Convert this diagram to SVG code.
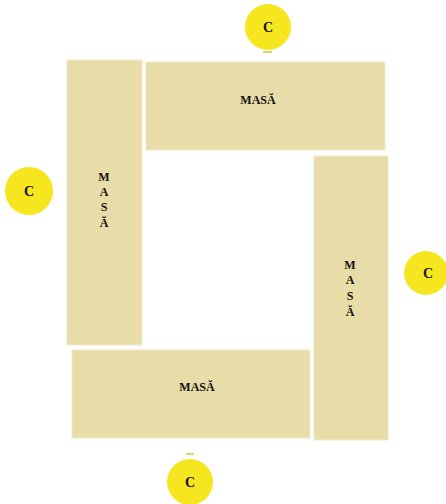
<svg xmlns="http://www.w3.org/2000/svg" width="446" height="504" viewBox="0 0 446 504">
<style>
.t{fill:#e8dda8;stroke:#f0e8c8;stroke-width:1}
.c{fill:#f6e620}
.l{font-family:"Liberation Serif",serif;font-weight:bold;font-size:12px;fill:#111;text-anchor:middle}
.cl{font-size:14px}
.d{stroke:#b8d040;stroke-width:1.5}
</style>
<rect width="446" height="504" fill="#fff"/>
<g id="table-top"><rect class="t" x="146" y="62" width="239" height="88"/><text class="l" x="258" y="104">MASĂ</text></g>
<g id="table-left"><rect class="t" x="67" y="60" width="75" height="285"/><text class="l" x="104" y="181">M</text><text class="l" x="104" y="196">A</text><text class="l" x="104" y="211">S</text><text class="l" x="104" y="227">Ă</text></g>
<g id="table-right"><rect class="t" x="314" y="156" width="74" height="284"/><text class="l" x="350" y="269">M</text><text class="l" x="350" y="284">A</text><text class="l" x="350" y="300">S</text><text class="l" x="350" y="316">Ă</text></g>
<g id="table-bottom"><rect class="t" x="72" y="350" width="238" height="88"/><text class="l" x="197" y="391">MASĂ</text></g>
<g id="chair-top"><circle class="c" cx="268" cy="27" r="23"/><text class="l cl" x="268" y="32">C</text><line class="d" x1="263" y1="52" x2="272" y2="52"/></g>
<g id="chair-left"><circle class="c" cx="29" cy="191" r="24"/><text class="l cl" x="29" y="196">C</text></g>
<g id="chair-right"><circle class="c" cx="426" cy="273" r="22"/><text class="l cl" x="428" y="278">C</text></g>
<g id="chair-bottom"><circle class="c" cx="190" cy="482" r="23"/><text class="l cl" x="190" y="487">C</text><line class="d" x1="186" y1="454" x2="194" y2="454"/></g>
<g id="connectors"></g>
</svg>
